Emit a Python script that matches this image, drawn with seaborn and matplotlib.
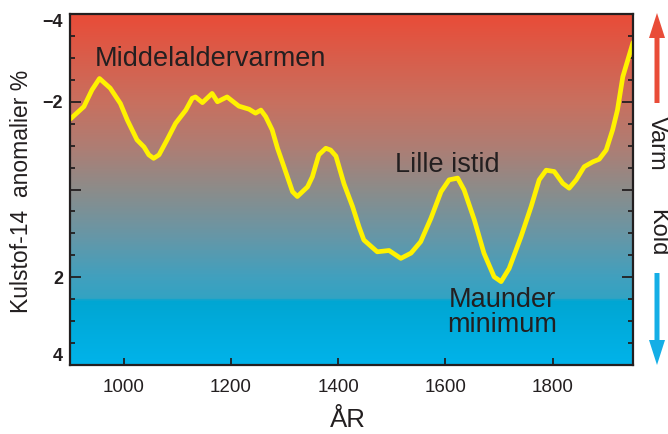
import numpy as np
import pandas as pd
import matplotlib
matplotlib.use("Agg")
import matplotlib.pyplot as plt
from matplotlib.colors import LinearSegmentedColormap
from matplotlib.patches import FancyArrow
from matplotlib.ticker import MultipleLocator
import seaborn as sns

# carbon-14 anomaly (%)
years = [900, 926, 941, 955, 975, 994, 1007, 1025, 1038, 1047,
         1056, 1066, 1081, 1097, 1116, 1128, 1134, 1147, 1165, 1175,
         1193, 1215, 1234, 1246, 1256, 1265, 1277, 1287, 1299, 1315,
         1324, 1343, 1352, 1364, 1377, 1386, 1396, 1411, 1427, 1439,
         1448, 1473, 1495, 1517, 1536, 1554, 1573, 1592, 1607, 1623,
         1635, 1654, 1672, 1691, 1704, 1719, 1741, 1760, 1775, 1788,
         1803, 1819, 1831, 1844, 1859, 1875, 1887, 1900, 1912, 1921,
         1931, 1950]
anomaly = [-1.60, -1.89, -2.27, -2.53, -2.31, -1.96, -1.58, -1.13, -0.97, -0.79,
           -0.71, -0.79, -1.13, -1.51, -1.81, -2.08, -2.11, -1.98, -2.19, -2.00,
           -2.11, -1.90, -1.83, -1.74, -1.81, -1.66, -1.36, -0.94, -0.52, 0.05,
           0.16, -0.06, -0.29, -0.79, -0.94, -0.90, -0.76, -0.13, 0.39, 0.85,
           1.15, 1.42, 1.39, 1.57, 1.45, 1.19, 0.66, 0.05, -0.22, -0.26,
           0.01, 0.69, 1.45, 1.99, 2.10, 1.80, 1.08, 0.39, -0.22, -0.44,
           -0.41, -0.14, -0.03, -0.22, -0.52, -0.63, -0.69, -0.90, -1.36, -1.81,
           -2.57, -3.35]

x_ticks = [1000, 1200, 1400, 1600, 1800]
y_ticks = [-4, -2, 0, 2, 4]
y_ticklabels = ["\u22124", "\u22122", "", "2", "4"]

df = pd.DataFrame({"year": years, "c14": anomaly})

sns.set_theme(style="ticks")
plt.rcParams["font.family"] = ["Liberation Sans", "DejaVu Sans"]
dark = "#231f20"

fig = plt.figure(figsize=(6.68, 4.34), dpi=100)
ax = fig.add_axes([70 / 668, 1 - 365 / 434, 563 / 668, 351 / 434])

# background gradient: warm red at top -> grey -> blue, with a step near 2.5
stops = [(0.0, "#e94c38"), (0.25, "#c8705f"), (0.375, "#af7d73"),
         (0.5, "#8c8c8a"), (0.625, "#6996a5"), (0.75, "#41a0be"),
         (0.815, "#32a3c3"), (0.816, "#00a6d2"), (1.0, "#00b3ea")]
cmap = LinearSegmentedColormap.from_list("warmcold", stops)
grad = np.linspace(0, 1, 600).reshape(-1, 1)
ax.imshow(grad, cmap=cmap, aspect="auto", extent=[900, 1950, 4, -4],
          origin="upper", zorder=0, interpolation="bilinear")

sns.lineplot(data=df, x="year", y="c14", ax=ax, color="#fff200",
             linewidth=3.4, zorder=3, solid_joinstyle="round",
             solid_capstyle="round")

ax.set_xlim(900, 1950)
ax.set_ylim(4, -4)
ax.set_xlabel("")
ax.set_ylabel("")

ax.set_xticks(x_ticks)
ax.set_xticklabels([str(v) for v in x_ticks], fontsize=13.5, color=dark)
ax.set_yticks(y_ticks)
ax.set_yticklabels(y_ticklabels, fontsize=13, fontweight="bold", color=dark)
ax.yaxis.set_minor_locator(MultipleLocator(0.5))
# end labels sit just inside the frame, as in the original
ylabs = ax.get_yticklabels()
ylabs[0].set_va("top")
ylabs[-1].set_va("bottom")

ax.tick_params(axis="x", direction="in", length=5, width=1.3, pad=10,
               colors=dark, top=False, bottom=True)
ax.tick_params(axis="y", which="major", direction="in", length=8, width=1.3,
               pad=5, colors=dark, left=True, right=True)
ax.tick_params(axis="y", which="minor", direction="in", length=3.5, width=1.3,
               colors=dark, left=True, right=True)

for sp in ax.spines.values():
    sp.set_visible(True)
    sp.set_color(dark)
    sp.set_linewidth(1.6)
    sp.set_zorder(5)

# annotations
txt = dict(fontsize=19.5, color=dark, zorder=6)
ax.text(947, -2.81, "Middelaldervarmen", ha="left", va="baseline", **txt)
ax.text(1506, -0.40, "Lille istid", ha="left", va="baseline", **txt)
ax.text(1706, 2.67, "Maunder", ha="center", va="baseline", **txt)
ax.text(1706, 3.25, "minimum", ha="center", va="baseline", **txt)

# axis titles
fig.text(22 / 668, 1 - 191 / 434, "Kulstof-14  anomalier %", rotation=90,
         ha="center", va="center", fontsize=16.5, color=dark)
fig.text(348 / 668, 2 / 434, "ÅR", ha="center", va="bottom",
         fontsize=18.5, color=dark)

# warm / cold arrows on the right
ax_x = 657 / 668
fig.add_artist(FancyArrow(ax_x, 1 - 103 / 434, 0, 90 / 434,
                          width=5 / 668, head_width=16 / 668,
                          head_length=25 / 434, length_includes_head=True,
                          color="#e94c38", transform=fig.transFigure,
                          linewidth=0))
fig.add_artist(FancyArrow(ax_x, 1 - 273 / 434, 0, -92 / 434,
                          width=5 / 668, head_width=16 / 668,
                          head_length=25 / 434, length_includes_head=True,
                          color="#14aee6", transform=fig.transFigure,
                          linewidth=0))
fig.text(ax_x, 1 - 143 / 434, "Varm", rotation=270, ha="center",
         va="center", fontsize=17, color=dark)
fig.text(ax_x, 1 - 233 / 434, "Kold", rotation=270, ha="center",
         va="center", fontsize=17, color=dark)

fig.savefig("out.png", dpi=100)
